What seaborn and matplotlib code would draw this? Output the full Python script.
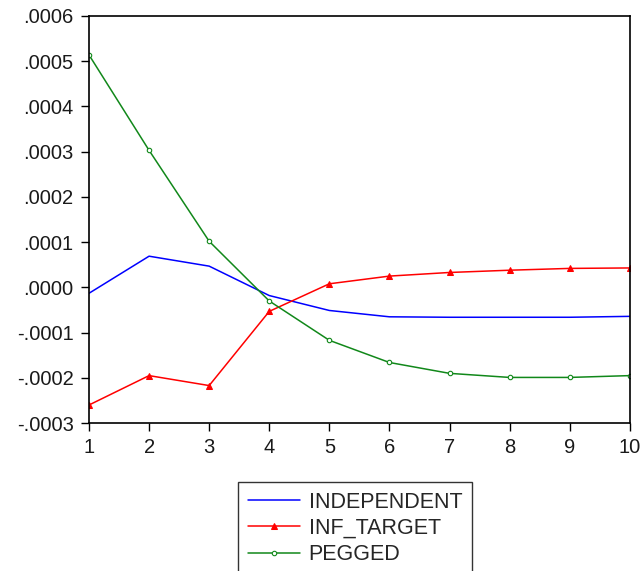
import matplotlib.pyplot as plt
import matplotlib.ticker as mticker
import seaborn as sns
import pandas as pd

sns.set_theme(style="white")
plt.rcParams['font.family'] = ['Liberation Sans', 'DejaVu Sans']

# --- Data ---
periods = [1, 2, 3, 4, 5, 6, 7, 8, 9, 10]
independent = [-0.000013, 0.000069, 0.000047, -0.000018, -0.000051,
               -0.000065, -0.000066, -0.000066, -0.000066, -0.000064]
inf_target = [-0.000260, -0.000195, -0.000217, -0.000053, 0.000008,
              0.000025, 0.000033, 0.000038, 0.000042, 0.000043]
pegged = [0.000514, 0.000303, 0.000102, -0.000030, -0.000117,
          -0.000166, -0.000190, -0.000199, -0.000199, -0.000195]
series_names = ['INDEPENDENT', 'INF_TARGET', 'PEGGED']
y_ticks = [-0.0003, -0.0002, -0.0001, 0, 0.0001, 0.0002, 0.0003, 0.0004, 0.0005, 0.0006]

df = pd.DataFrame({'period': periods, 'INDEPENDENT': independent,
                   'INF_TARGET': inf_target, 'PEGGED': pegged})
long_df = df.melt(id_vars='period', var_name='series', value_name='value')

colors = {'INDEPENDENT': '#0000ff', 'INF_TARGET': '#ff0000', 'PEGGED': '#11881a'}

fig = plt.figure(figsize=(6.42, 5.71), dpi=100)
ax = fig.add_axes([0.1386, 0.259, 0.8424, 0.713])

for name in series_names:
    sub = long_df[long_df['series'] == name]
    kw = {}
    if name == 'INF_TARGET':
        kw = dict(marker='^', markersize=5, markerfacecolor=colors[name],
                  markeredgecolor=colors[name])
    elif name == 'PEGGED':
        kw = dict(marker='o', markersize=3.2, markerfacecolor='white',
                  markeredgecolor=colors[name], markeredgewidth=0.8)
    sns.lineplot(data=sub, x='period', y='value', ax=ax, color=colors[name],
                 linewidth=1.1, label=name, **kw)

ax.set_xlim(1, 10)
ax.set_ylim(-0.0003, 0.0006)
ax.set_xticks(periods)
ax.set_yticks(y_ticks)


def fmt(v, pos):
    s = f"{v:.4f}"
    if s.startswith('-0'):
        s = '-' + s[2:]
    elif s.startswith('0'):
        s = s[1:]
    if s == '-.0000':
        s = '.0000'
    return s


ax.yaxis.set_major_formatter(mticker.FuncFormatter(fmt))
ax.set_xlabel('')
ax.set_ylabel('')
ax.tick_params(axis='both', direction='out', length=6, width=1, color='black',
               labelsize=14.5, labelcolor='#1a1a1a', left=True, bottom=True, pad=5)
for sp in ax.spines.values():
    sp.set_color('black')
    sp.set_linewidth(1.2)
ax.grid(False)

ax.get_legend().remove()
handles, labels = ax.get_legend_handles_labels()
leg = fig.legend(handles, labels, loc='upper center', bbox_to_anchor=(0.553, 0.156),
                 fontsize=15.5, frameon=True, fancybox=False, edgecolor='black',
                 handlelength=2.4, borderpad=0.45, labelspacing=0.25,
                 handletextpad=0.42, borderaxespad=0)
leg.get_frame().set_linewidth(1.0)

fig.savefig('out.png', dpi=100)
